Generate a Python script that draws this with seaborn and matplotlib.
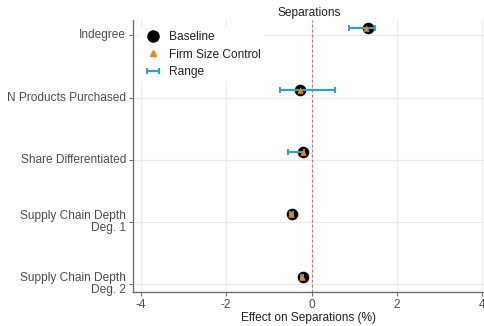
import matplotlib
matplotlib.use("Agg")
import matplotlib.pyplot as plt
import seaborn as sns
import pandas as pd
import numpy as np
from matplotlib.lines import Line2D

categories = ["Indegree", "N Products Purchased", "Share Differentiated",
              "Supply Chain Depth\nDeg. 1", "Supply Chain Depth\nDeg. 2"]
baseline = [1.32, -0.27, -0.19, -0.46, -0.21]
firm_size = [1.29, -0.28, -0.20, -0.47, -0.22]
range_low = [0.88, -0.73, -0.55, -0.50, -0.24]
range_high = [1.48, 0.55, -0.17, -0.43, -0.19]
xticks = [-4, -2, 0, 2, 4]

sns.set_theme(style="whitegrid")
plt.rcParams['font.family'] = ['Liberation Sans', 'DejaVu Sans']

fig = plt.figure(figsize=(4.85, 3.26), dpi=100)
ax = fig.add_axes([0.274, 0.104, 0.726, 0.835])

pos = np.arange(len(categories))
offset = -0.12
df = pd.DataFrame({"cat": categories, "y": pos + offset,
                   "baseline": baseline, "firm": firm_size,
                   "lo": range_low, "hi": range_high})

blue = "#2E9FD4"
orange = "#F5820D"

sns.scatterplot(data=df, x="baseline", y="y", ax=ax, color="black", s=70,
                marker="o", edgecolor="black", linewidth=0, zorder=3, legend=False)
eb = ax.errorbar(df["baseline"], df["y"],
                 xerr=[df["baseline"] - df["lo"], df["hi"] - df["baseline"]],
                 fmt="none", ecolor=blue, elinewidth=1.6, capsize=2.5, capthick=1.4, zorder=4)
sns.scatterplot(data=df, x="firm", y="y", ax=ax, color=orange, s=22,
                marker="^", linewidth=0, zorder=5, legend=False)

ax.axvline(0, color="#E86070", linestyle=(0, (2.5, 2)), linewidth=0.8, zorder=2)

ax.set_xlim(-4.19, 4.07)
ax.set_ylim(4.13, -0.25)
ax.set_xticks(xticks)
ax.set_xticklabels([str(t) for t in xticks])
ax.set_yticks(pos)
ax.set_yticklabels(categories, ha="right", va="center", linespacing=1.0)

ax.grid(True, color="#EBEBEB", linewidth=0.8)
ax.set_facecolor("white")
for s in ["top", "right"]:
    ax.spines[s].set_visible(False)
for s in ["left", "bottom"]:
    ax.spines[s].set_visible(True)
    ax.spines[s].set_color("#707070")
    ax.spines[s].set_linewidth(1.0)

ax.tick_params(axis="both", which="both", length=3, width=0.8, color="#707070",
               labelcolor="#4D4D4D", labelsize=8.6, pad=2)
ax.tick_params(axis="x", bottom=True)
ax.tick_params(axis="y", left=True)

ax.set_xlabel("Effect on Separations (%)", fontsize=8.6, color="#222222", labelpad=1)
ax.set_ylabel("")
ax.set_title("Separations", fontsize=8.6, color="#222222", pad=3)

handles = [
    Line2D([], [], marker="o", color="black", linestyle="none", markersize=8),
    Line2D([], [], marker="^", color=orange, linestyle="none", markersize=4.5),
    eb,
]
leg = ax.legend(handles, ["Baseline", "Firm Size Control", "Range"],
                loc="upper left", bbox_to_anchor=(0.0, 0.995), frameon=True,
                facecolor="white", edgecolor="white", framealpha=1, fontsize=8.6,
                handlelength=1.7, handletextpad=0.5, labelspacing=0.48, borderpad=0.3)
leg.get_frame().set_linewidth(0)
for t in leg.get_texts():
    t.set_color("#222222")

fig.savefig("out.png", dpi=100)
